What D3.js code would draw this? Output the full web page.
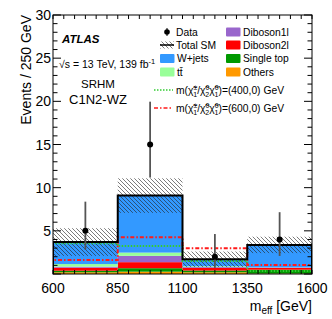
<html>
  <head>
    <meta charset="utf-8"/>
    <style>
      body { margin: 0; background: #fff; }
      text { font-family: "Liberation Sans", Arial, Helvetica, sans-serif; }
    </style>
  </head>
  <body>
    <svg></svg>
  </body>
  <script src="https://d3js.org/d3.v7.min.js"></script>
  <script>
  // bin edges and contents (events / 250 GeV)
  var binEdges = [600, 850, 1100, 1350, 1600];
  var xTickLabels = ["600", "850", "1100", "1350", "1600"];
  var yTickLabels = ["5", "10", "15", "20", "25", "30"];

  var others    = [0.20, 0.27, 0.20, 0.05];
  var singleTop = [0.18, 0.40, 0.20, 0.45];
  var diboson2l = [0.35, 0.70, 0.30, 0.20];
  var diboson1l = [0.12, 0.73, 0.10, 0.05];
  var ttbar     = [0.30, 0.38, 0.10, 0.02];
  var wjets     = [2.55, 6.60, 0.80, 2.60];
  var totalErr  = [1.6, 2.0, 0.9, 0.95];

  var dataVals  = [5, 15, 2, 4];
  var dataUp    = [3.38, 4.96, 2.63, 3.16];
  var dataDown  = [2.16, 3.83, 1.29, 1.91];

  var sig400 = [3.55, 3.24, 1.5, 0.35];
  var sig600 = [1.62, 4.25, 2.97, 1.04];

  var samples = [
    {name: "Others", vals: others, color: "#ff9900"},
    {name: "Single top", vals: singleTop, color: "#009900"},
    {name: "Diboson2l", vals: diboson2l, color: "#ff0000"},
    {name: "Diboson1l", vals: diboson1l, color: "#9966cc"},
    {name: "ttbar", vals: ttbar, color: "#99ff99"},
    {name: "W+jets", vals: wjets, color: "#3399ff"}
  ];

  var W = 332, H = 319;
  var pL = 53, pR = 312, pT = 15, pB = 274;

  var svg = d3.select("svg").attr("width", W).attr("height", H);

  var x = d3.scaleLinear().domain([600, 1600]).range([pL, pR]);
  var y = d3.scaleLinear().domain([0, 30]).range([pB, pT]);

  var defs = svg.append("defs");
  var pat = defs.append("pattern")
    .attr("id", "hatch")
    .attr("patternUnits", "userSpaceOnUse")
    .attr("width", 4).attr("height", 4);
  pat.append("path")
    .attr("d", "M-1,-1 L5,5 M-1,3 L1,5 M3,-1 L5,1")
    .attr("stroke", "#222").attr("stroke-width", 0.6);

  defs.append("clipPath").attr("id", "clip")
    .append("rect").attr("x", pL).attr("y", pT)
    .attr("width", pR - pL).attr("height", pB - pT);

  var plot = svg.append("g").attr("clip-path", "url(#clip)");

  var nb = binEdges.length - 1;
  var bins = d3.range(nb).map(function(i) {
    return {i: i, lo: binEdges[i], hi: binEdges[i + 1]};
  });

  // stacked backgrounds
  var base = bins.map(function() { return 0; });
  samples.forEach(function(s) {
    plot.selectAll(null)
      .data(bins)
      .enter().append("rect")
      .attr("x", function(d) { return x(d.lo); })
      .attr("width", function(d) { return x(d.hi) - x(d.lo); })
      .attr("y", function(d) { return y(base[d.i] + s.vals[d.i]); })
      .attr("height", function(d) { return y(base[d.i]) - y(base[d.i] + s.vals[d.i]); })
      .attr("fill", s.color);
    bins.forEach(function(d) { base[d.i] += s.vals[d.i]; });
  });
  var total = base.slice();

  // total SM uncertainty band
  plot.selectAll(null)
    .data(bins)
    .enter().append("rect")
    .attr("x", function(d) { return x(d.lo); })
    .attr("width", function(d) { return x(d.hi) - x(d.lo); })
    .attr("y", function(d) { return y(total[d.i] + totalErr[d.i]); })
    .attr("height", function(d) { return y(total[d.i] - totalErr[d.i]) - y(total[d.i] + totalErr[d.i]); })
    .attr("fill", "url(#hatch)");

  function stepPath(vals) {
    var p = [[x(binEdges[0]), y(0)]];
    bins.forEach(function(d) {
      p.push([x(d.lo), y(vals[d.i])]);
      p.push([x(d.hi), y(vals[d.i])]);
    });
    p.push([x(binEdges[nb]), y(0)]);
    return d3.line()(p);
  }

  // signals
  plot.append("path").attr("d", stepPath(sig400))
    .attr("fill", "none").attr("stroke", "#33cc33")
    .attr("stroke-width", 2).attr("stroke-dasharray", "1.5,1.5");
  plot.append("path").attr("d", stepPath(sig600))
    .attr("fill", "none").attr("stroke", "#ff1a1a")
    .attr("stroke-width", 2).attr("stroke-dasharray", "4,2,1.5,2");

  // total SM line
  plot.append("path").attr("d", stepPath(total))
    .attr("fill", "none").attr("stroke", "#000").attr("stroke-width", 2);

  // data
  var pts = plot.selectAll(null).data(bins).enter().append("g");
  pts.append("line")
    .attr("x1", function(d) { return x((d.lo + d.hi) / 2); })
    .attr("x2", function(d) { return x((d.lo + d.hi) / 2); })
    .attr("y1", function(d) { return y(dataVals[d.i] + dataUp[d.i]); })
    .attr("y2", function(d) { return y(dataVals[d.i] - dataDown[d.i]); })
    .attr("stroke", "#555").attr("stroke-width", 1.8);
  pts.append("circle")
    .attr("cx", function(d) { return x((d.lo + d.hi) / 2); })
    .attr("cy", function(d) { return y(dataVals[d.i]); })
    .attr("r", 3)
    .attr("fill", "#000");

  // frame and ticks
  svg.append("rect").attr("x", pL).attr("y", pT)
    .attr("width", pR - pL).attr("height", pB - pT)
    .attr("fill", "none").attr("stroke", "#000").attr("stroke-width", 1);

  var yMinor = d3.range(0, 31, 1);
  var ticks = svg.append("g").attr("stroke", "#000").attr("stroke-width", 1);
  ticks.selectAll(null).data(yMinor).enter().append("line")
    .attr("x1", pL).attr("x2", function(d) { return pL + (d % 5 === 0 ? 8 : 4.5); })
    .attr("y1", function(d) { return y(d); }).attr("y2", function(d) { return y(d); });
  ticks.selectAll(null).data(yMinor).enter().append("line")
    .attr("x1", pR).attr("x2", function(d) { return pR - (d % 5 === 0 ? 8 : 4.5); })
    .attr("y1", function(d) { return y(d); }).attr("y2", function(d) { return y(d); });

  var xMinor = d3.range(600, 1600.1, 1000 / 24);
  ticks.selectAll(null).data(xMinor).enter().append("line")
    .attr("x1", function(d) { return x(d); }).attr("x2", function(d) { return x(d); })
    .attr("y1", pB).attr("y2", pB - 4);
  ticks.selectAll(null).data(xMinor).enter().append("line")
    .attr("x1", function(d) { return x(d); }).attr("x2", function(d) { return x(d); })
    .attr("y1", pT).attr("y2", pT + 4);

  // tick labels
  svg.selectAll(null).data(xTickLabels).enter().append("text")
    .attr("x", function(d) { return x(+d); })
    .attr("y", 293)
    .attr("text-anchor", "middle")
    .attr("font-size", 14)
    .text(function(d) { return d; });
  svg.selectAll(null).data(yTickLabels).enter().append("text")
    .attr("x", 51)
    .attr("y", function(d) { return y(+d) + 5; })
    .attr("text-anchor", "end")
    .attr("font-size", 14)
    .text(function(d) { return d; });

  // axis titles
  var xt = svg.append("text").attr("x", 312).attr("y", 311).attr("text-anchor", "end")
    .attr("font-size", 14);
  xt.append("tspan").text("m");
  xt.append("tspan").attr("font-size", 10).attr("dy", 3).text("eff");
  xt.append("tspan").attr("dy", -3).text(" [GeV]");

  svg.append("text")
    .attr("transform", "translate(31," + pT + ") rotate(-90)")
    .attr("text-anchor", "end")
    .attr("font-size", 14)
    .text("Events / 250 GeV");

  // labels
  svg.append("text").attr("x", 62).attr("y", 43)
    .attr("font-size", 11.5).attr("font-weight", "bold").attr("font-style", "italic")
    .text("ATLAS");
  var lum = svg.append("text").attr("x", 59).attr("y", 68).attr("font-size", 10.5);
  lum.append("tspan").text("\u221As = 13 TeV, 139 fb");
  lum.append("tspan").attr("font-size", 7.5).attr("dy", -4).text("-1");
  svg.append("text").attr("x", 98).attr("y", 88).attr("text-anchor", "middle")
    .attr("font-size", 11.5).text("SRHM");
  svg.append("text").attr("x", 98).attr("y", 104).attr("text-anchor", "middle")
    .attr("font-size", 13).text("C1N2-WZ");

  // legend
  var leg = svg.append("g").attr("font-size", 10.3);
  var rows = [32, 45, 58.5, 72];

  leg.append("line").attr("x1", 167).attr("x2", 167).attr("y1", rows[0] - 4).attr("y2", rows[0] + 4)
    .attr("stroke", "#000").attr("stroke-width", 1);
  leg.append("circle").attr("cx", 167).attr("cy", rows[0]).attr("r", 2.8).attr("fill", "#000");
  leg.append("text").attr("x", 176).attr("y", rows[0] + 3.8).text("Data");

  leg.append("rect").attr("x", 160).attr("y", rows[1] - 3.5).attr("width", 14).attr("height", 7)
    .attr("fill", "url(#hatch)");
  leg.append("line").attr("x1", 160).attr("x2", 174).attr("y1", rows[1]).attr("y2", rows[1])
    .attr("stroke", "#000").attr("stroke-width", 1.5);
  leg.append("text").attr("x", 176).attr("y", rows[1] + 3.8).text("Total SM");

  var boxes = [
    {col: 0, row: 2, s: samples[5], label: "W+jets"},
    {col: 0, row: 3, s: samples[4], label: "tt\u0304"},
    {col: 1, row: 0, s: samples[3], label: "Diboson1l"},
    {col: 1, row: 1, s: samples[2], label: "Diboson2l"},
    {col: 1, row: 2, s: samples[1], label: "Single top"},
    {col: 1, row: 3, s: samples[0], label: "Others"}
  ];
  var colX = [160, 226];
  leg.selectAll(null).data(boxes).enter().append("rect")
    .attr("x", function(d) { return colX[d.col]; })
    .attr("y", function(d) { return rows[d.row] - 4.5; })
    .attr("width", 14.5).attr("height", 9).attr("rx", 1)
    .attr("fill", function(d) { return d.s.color; });
  leg.selectAll(null).data(boxes).enter().append("text")
    .attr("x", function(d) { return colX[d.col] + 17; })
    .attr("y", function(d) { return rows[d.row] + 3.8; })
    .text(function(d) { return d.label; });

  function sigLabel(yy, mass) {
    var t = leg.append("text").attr("x", 176).attr("y", yy + 3.8);
    t.append("tspan").text("m(\u03C7\u0303");
    t.append("tspan").attr("font-size", 7).attr("dy", -4).text("\u00B1");
    t.append("tspan").attr("font-size", 7).attr("dx", -4).attr("dy", 7).text("1");
    t.append("tspan").attr("dy", -3).text("/\u03C7\u0303");
    t.append("tspan").attr("font-size", 7).attr("dy", -4).text("0");
    t.append("tspan").attr("font-size", 7).attr("dx", -4).attr("dy", 7).text("2");
    t.append("tspan").attr("dy", -3).text("\u03C7\u0303");
    t.append("tspan").attr("font-size", 7).attr("dy", -4).text("0");
    t.append("tspan").attr("font-size", 7).attr("dx", -4).attr("dy", 7).text("1");
    t.append("tspan").attr("dy", -3).text(")=(" + mass + ",0) GeV");
  }
  leg.append("line").attr("x1", 154).attr("x2", 173).attr("y1", 90).attr("y2", 90)
    .attr("stroke", "#33cc33").attr("stroke-width", 1.5).attr("stroke-dasharray", "1.5,1.5");
  sigLabel(90, 400);
  leg.append("line").attr("x1", 154).attr("x2", 173).attr("y1", 108).attr("y2", 108)
    .attr("stroke", "#ff1a1a").attr("stroke-width", 1.5).attr("stroke-dasharray", "4,2,1.5,2");
  sigLabel(108, 600);
  </script>
</html>
